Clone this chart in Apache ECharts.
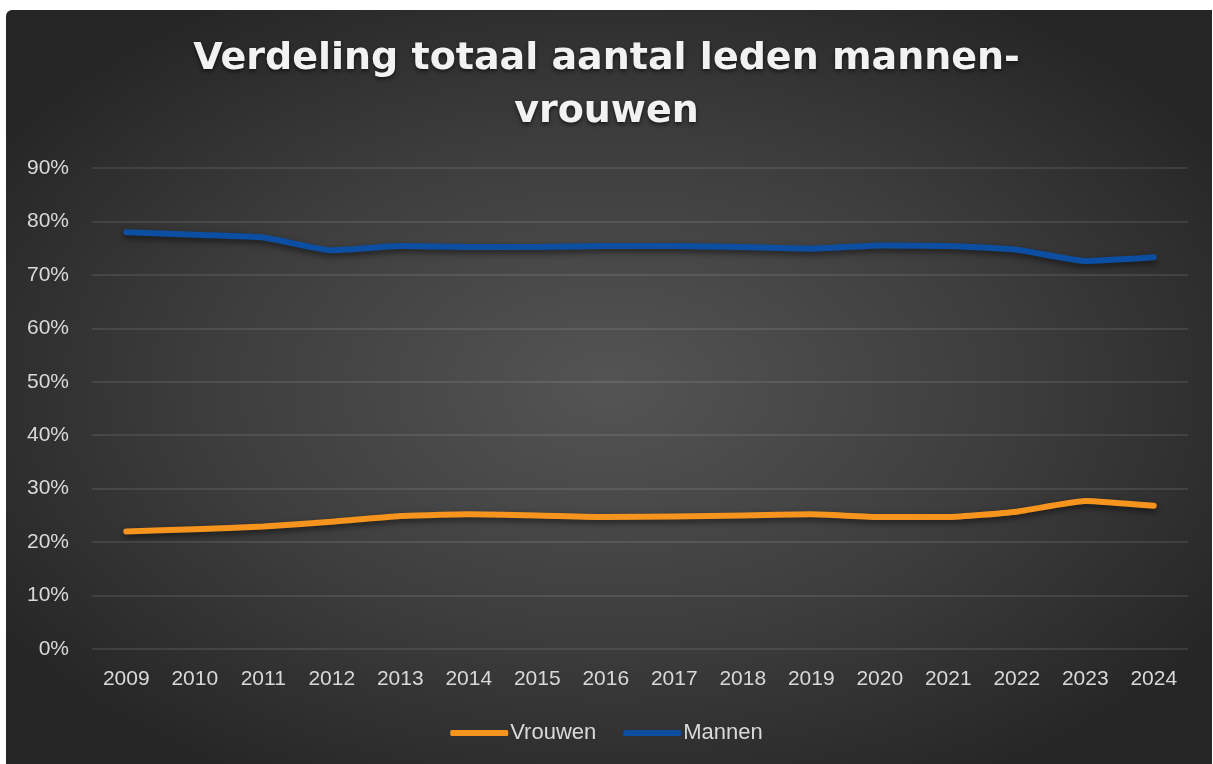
<!DOCTYPE html>
<html>
<head>
<meta charset="utf-8">
<script src="https://cdn.jsdelivr.net/npm/echarts@6/dist/echarts.min.js"></script>
<style>
  html, body { margin: 0; padding: 0; background: #ffffff; }
  #frame {
    position: absolute; left: 6px; top: 10px; width: 1206px; height: 754px;
    border-radius: 6px 0 0 0;
    background: radial-gradient(ellipse 60% 60% at 50% 50%, #545454 0%, #3d3d3d 55%, #262626 100%);
  }
  #chart { position: absolute; left: 0; top: 0; width: 1213px; height: 764px; }
</style>
</head>
<body>
<div id="frame"></div>
<div id="chart"></div>
<script>
const titleLines = ['Verdeling totaal aantal leden mannen-', 'vrouwen'];
const years = ['2009','2010','2011','2012','2013','2014','2015','2016','2017','2018','2019','2020','2021','2022','2023','2024'];
const vrouwen = [22.0, 22.4, 22.9, 23.8, 24.9, 25.2, 25.0, 24.7, 24.8, 25.0, 25.2, 24.7, 24.7, 25.7, 27.7, 26.8];
const mannen  = [78.0, 77.5, 77.0, 74.6, 75.4, 75.2, 75.2, 75.4, 75.4, 75.2, 74.9, 75.5, 75.4, 74.7, 72.6, 73.3];
const yTicks = { min: 0, max: 90, interval: 10 };

const chart = echarts.init(document.getElementById('chart'), null, { renderer: 'canvas' });
const labelColor = '#d9d9d9';
const lineShadow = { shadowColor: 'rgba(0,0,0,0.55)', shadowBlur: 6, shadowOffsetY: 3 };

chart.setOption({
  backgroundColor: 'transparent',
  animation: false,
  title: {
    text: titleLines.join('\n'),
    left: 'center',
    top: 28,
    textStyle: {
      color: '#f2f2f2',
      fontFamily: 'DejaVu Sans',
      fontWeight: 'bold',
      fontSize: 38,
      lineHeight: 53,
      textShadowColor: 'rgba(0,0,0,0.6)',
      textShadowBlur: 4,
      textShadowOffsetY: 2
    }
  },
  legend: {
    bottom: 15,
    left: 'center',
    itemWidth: 58,
    itemHeight: 6,
    itemGap: 27,
    icon: 'roundRect',
    textStyle: { color: labelColor, fontFamily: 'Liberation Sans', fontSize: 22, padding: [0, 0, 0, -3] },
    data: ['Vrouwen', 'Mannen']
  },
  grid: { left: 92, right: 25, top: 168, bottom: 115, containLabel: false },
  xAxis: {
    type: 'category',
    data: years,
    boundaryGap: true,
    axisLine: { show: false },
    axisTick: { show: false },
    axisLabel: { color: labelColor, fontFamily: 'Liberation Sans', fontSize: 21, margin: 20 },
    splitLine: { show: false }
  },
  yAxis: {
    type: 'value',
    min: yTicks.min,
    max: yTicks.max,
    interval: yTicks.interval,
    axisLine: { show: false },
    axisTick: { show: false },
    axisLabel: { color: labelColor, fontFamily: 'Liberation Sans', fontSize: 21, margin: 23, formatter: '{value}%' },
    splitLine: { lineStyle: { color: 'rgba(255,255,255,0.13)', width: 1.5 } }
  },
  series: [
    {
      name: 'Vrouwen', type: 'line', data: vrouwen, showSymbol: false, smooth: 0.15,
      itemStyle: { color: '#f7941d' },
      lineStyle: Object.assign({ color: '#f7941d', width: 6, cap: 'round', join: 'round' }, lineShadow)
    },
    {
      name: 'Mannen', type: 'line', data: mannen, showSymbol: false, smooth: 0.15,
      itemStyle: { color: '#0b4ea2' },
      lineStyle: Object.assign({ color: '#0b4ea2', width: 6, cap: 'round', join: 'round' }, lineShadow)
    }
  ]
});
</script>
</body>
</html>
